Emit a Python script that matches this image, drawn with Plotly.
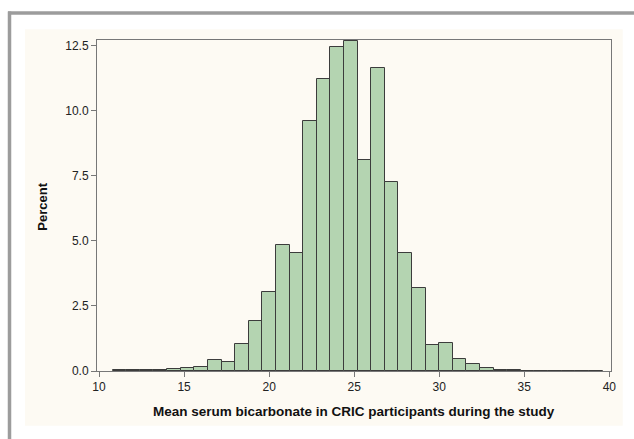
import plotly.graph_objects as go

# Histogram data (bin width 0.8, first bin starts at 10.8)
bin_start = 10.8
bin_width = 0.8
percent = [0.02, 0.02, 0.05, 0.03, 0.09, 0.13, 0.17, 0.41, 0.35, 1.03,
           1.92, 3.02, 4.82, 4.53, 9.59, 11.20, 12.43, 12.66, 8.12, 11.63,
           7.25, 4.53, 3.18, 0.99, 1.07, 0.46, 0.25, 0.12, 0.02, 0.05,
           0.01, 0.01, 0.01, 0.01, 0.01, 0.01]
centers = [round(bin_start + bin_width * (i + 0.5), 2) for i in range(len(percent))]

x_ticks = [10, 15, 20, 25, 30, 35, 40]
y_ticks = [0.0, 2.5, 5.0, 7.5, 10.0, 12.5]
y_ticklabels = ["0.0", "2.5", "5.0", "7.5", "10.0", "12.5"]

x_title = "Mean serum bicarbonate in CRIC participants during the study"
y_title = "Percent"

W, H = 634, 439
ML, MR, MT, MB = 97, 23, 40, 68
PW, PH = W - ML - MR, H - MT - MB


def px_x(p):
    return (p - ML) / PW


def px_y(p):
    return (H - MB - p) / PH


fig = go.Figure()
fig.add_trace(go.Bar(
    x=centers, y=percent, width=bin_width,
    marker=dict(color="#b4d4b1", line=dict(color="#3c3c3c", width=1)),
    hoverinfo="x+y",
))

font_family = "Liberation Sans, Arial, sans-serif"

fig.update_layout(
    width=W, height=H,
    margin=dict(l=ML, r=MR, t=MT, b=MB, pad=0),
    paper_bgcolor="white",
    plot_bgcolor="white",
    showlegend=False,
    bargap=0,
    font=dict(family=font_family, size=12, color="#222222"),
    xaxis=dict(
        range=[9.88, 40.1], tickvals=x_ticks, ticks="outside", ticklen=5,
        tickcolor="#777777", showgrid=False, zeroline=False,
        showline=True, linecolor="#777777", linewidth=1, mirror=True,
        tickfont=dict(size=12, color="#222222"),
    ),
    yaxis=dict(
        range=[0, 12.71], tickvals=y_ticks, ticktext=y_ticklabels,
        ticks="outside", ticklen=5, tickcolor="#777777",
        showgrid=False, zeroline=False,
        showline=True, linecolor="#777777", linewidth=1, mirror=True,
        tickfont=dict(size=12, color="#222222"),
    ),
    shapes=[
        # cream background panel
        dict(type="rect", xref="paper", yref="paper", layer="below",
             x0=px_x(25), x1=px_x(622.7), y0=px_y(425.7), y1=px_y(29.3),
             fillcolor="#fdfaf3", line=dict(width=0)),
        # grey outer frame (top and left edges)
        dict(type="line", xref="paper", yref="paper",
             x0=px_x(8), x1=px_x(634), y0=px_y(13), y1=px_y(13),
             line=dict(color="#9c9c9c", width=3.5)),
        dict(type="line", xref="paper", yref="paper",
             x0=px_x(9.5), x1=px_x(9.5), y0=px_y(11.5), y1=px_y(439),
             line=dict(color="#9c9c9c", width=3.5)),
    ],
    annotations=[
        dict(text="<b>" + x_title + "</b>", xref="paper", yref="paper",
             x=px_x(354.3), y=px_y(411), showarrow=False,
             xanchor="center", yanchor="middle",
             font=dict(size=13.5, color="#111111", family=font_family)),
        dict(text="<b>" + y_title + "</b>", xref="paper", yref="paper",
             x=px_x(41.7), y=px_y(207), showarrow=False, textangle=-90,
             xanchor="center", yanchor="middle",
             font=dict(size=13, color="#111111", family=font_family)),
    ],
)

fig.write_html("out.html",
               config={"displayModeBar": False},
               post_script="document.body.style.margin='0';"
                           "document.body.style.overflow='hidden';")
